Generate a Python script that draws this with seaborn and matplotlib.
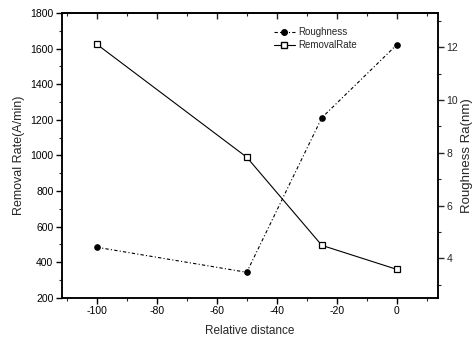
import matplotlib
matplotlib.use("Agg")
import matplotlib.pyplot as plt
import seaborn as sns
import pandas as pd
from matplotlib.ticker import MultipleLocator, NullFormatter
from matplotlib.lines import Line2D

sns.set_style("ticks")
plt.rcParams['font.family'] = ['Liberation Sans', 'DejaVu Sans']
plt.rcParams['axes.unicode_minus'] = False

distance = [-100, -50, -25, 0]
removal_rate = [1625, 990, 495, 360]
roughness = [4.42, 3.47, 9.33, 12.1]

df = pd.DataFrame({"distance": distance, "removal": removal_rate, "roughness": roughness})

fig = plt.figure(figsize=(4.72, 3.42), dpi=100)
ax = fig.add_axes([0.131, 0.129, 0.797, 0.833])
ax2 = ax.twinx()

sns.lineplot(data=df, x="distance", y="removal", ax=ax, color="black", linewidth=0.8,
             marker="s", markersize=5, markerfacecolor="white", markeredgecolor="black",
             markeredgewidth=0.9)
sns.lineplot(data=df, x="distance", y="roughness", ax=ax2, color="black", linewidth=0.8,
             linestyle=(0, (3, 2, 1, 2)), marker="o", markersize=4,
             markerfacecolor="black", markeredgecolor="black")

ax.set_xlim(-111.6, 13.7)
ax.set_ylim(200, 1800)
ax2.set_ylim(2.5, 13.3)

ax.xaxis.set_major_locator(MultipleLocator(20))
ax.xaxis.set_minor_locator(MultipleLocator(10))
ax.yaxis.set_major_locator(MultipleLocator(200))
ax.yaxis.set_minor_locator(MultipleLocator(100))
ax2.yaxis.set_major_locator(MultipleLocator(2))
ax2.yaxis.set_minor_locator(MultipleLocator(1))
ax2.set_yticks([4, 6, 8, 10, 12])

for a in (ax, ax2):
    for s in a.spines.values():
        s.set_linewidth(1.1)
        s.set_color("black")
ax.tick_params(axis="both", which="major", labelsize=7.5, length=4, width=1, direction="out",
               colors="black", pad=2)
ax.tick_params(axis="both", which="minor", length=2.5, width=0.8, direction="out")
ax2.tick_params(axis="y", which="major", labelsize=7.5, length=4, width=1, direction="out", pad=2)
ax2.tick_params(axis="y", which="minor", length=2.5, width=0.8, direction="out")

top = ax.secondary_xaxis("top")
top.xaxis.set_major_locator(MultipleLocator(20))
top.xaxis.set_minor_locator(MultipleLocator(10))
top.xaxis.set_major_formatter(NullFormatter())
top.tick_params(which="major", direction="in", length=4, width=1)
top.tick_params(which="minor", direction="in", length=2.5, width=0.8)
top.spines["top"].set_linewidth(1.1)

ax.set_xlabel("Relative distance", fontsize=8.5, labelpad=6)
ax.set_ylabel("Removal Rate(A/min)", fontsize=9, labelpad=4)
ax2.set_ylabel("Roughness Ra(nm)", fontsize=9.5, labelpad=2)

handles = [
    Line2D([], [], color="black", linewidth=0.8, linestyle=(0, (3, 2, 1, 2)), marker="o",
           markersize=4, markerfacecolor="black"),
    Line2D([], [], color="black", linewidth=0.8, marker="s", markersize=5,
           markerfacecolor="white", markeredgecolor="black"),
]
ax.legend(handles, ["Roughness", "RemovalRate"], loc="upper left", bbox_to_anchor=(0.54, 0.98),
          frameon=False, fontsize=7, handlelength=2.2, handletextpad=0.3, labelspacing=0.3)

fig.savefig("out.png", dpi=100)
